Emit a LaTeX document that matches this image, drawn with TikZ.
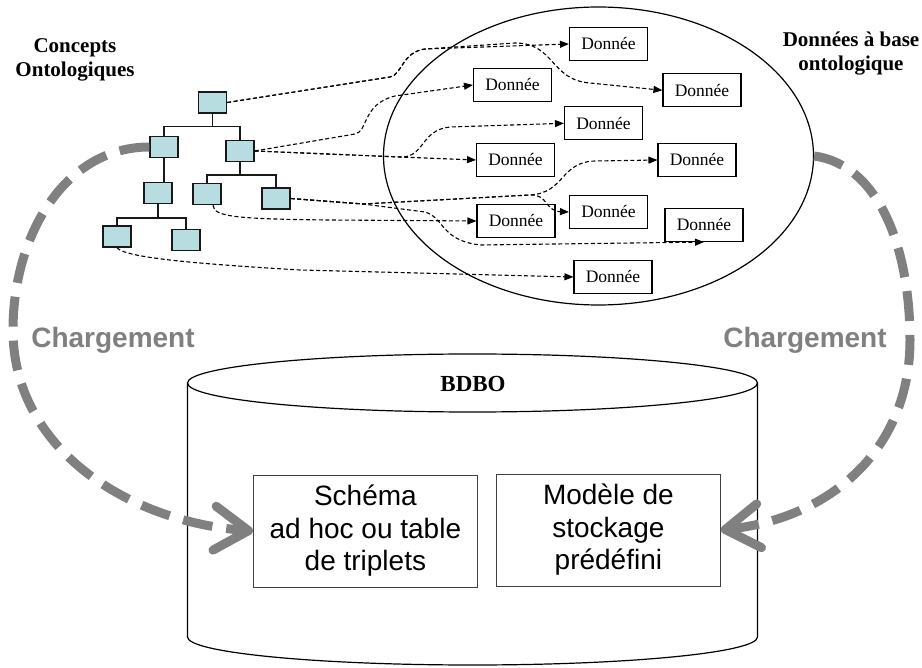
\documentclass[tikz,border=0pt]{standalone}
\usepackage{fontspec}
\setmainfont{Liberation Serif}
\newfontfamily\arialfont{Liberation Sans}
\usepackage{tikz}
\usetikzlibrary{arrows.meta,positioning,shapes.geometric}
\definecolor{gris}{RGB}{128,128,128}
\definecolor{bleuclair}{RGB}{183,221,224}
\tikzstyle{concept}=[draw=black!90,fill=bleuclair,line width=1.4pt,minimum width=28pt,minimum height=21pt,inner sep=0pt]
\tikzstyle{arbre}=[line width=1.4pt,black!90]
\tikzstyle{donnee}=[draw,line width=1.1pt,minimum width=78pt,minimum height=33pt,inner sep=0pt,font=\fontsize{17.5}{20}\selectfont]
\tikzstyle{lien}=[-{Triangle[length=9pt,width=7pt]},dash pattern=on 4pt off 2.5pt,line width=1.1pt]
\tikzstyle{charge}=[gris,line width=9pt,dash pattern=on 30pt off 14pt,-{Straight Barb[length=34pt,width=44pt,round]}]
\tikzstyle{titre}=[align=center,font=\bfseries\fontsize{21}{24}\selectfont]
\tikzstyle{boite}=[draw=black!75,line width=0.9pt,minimum width=224pt,minimum height=112pt,align=center,font=\arialfont\fontsize{28}{32.5}\selectfont]
\tikzstyle{cyl}=[line width=1.2pt]
\begin{document}
\begin{tikzpicture}[x=1pt,y=-1pt]
    \useasboundingbox (0,0) rectangle (922,668);

    % titres
    \node[titre] (concepts) at (75,60) {Concepts\\Ontologiques};
    \node[titre] (donnees) at (851,54) {Données à base\\ontologique};

    % arbre des concepts
    \node[concept] (C0) at (212.5,102.5) {};
    \node[concept] (C1) at (164,147) {};
    \node[concept] (C2) at (240,151) {};
    \node[concept] (C3) at (158,193) {};
    \node[concept] (C4) at (207,194) {};
    \node[concept] (C5) at (276,198.5) {};
    \node[concept] (C6) at (117,236.5) {};
    \node[concept] (C7) at (186,240) {};

    \draw[arbre] (C0.south) -- ++(0,13) -| (C1.north);
    \draw[arbre] (C0.south) -- ++(0,13) -| (C2.north);
    \draw[arbre] (C1.south) -- (C1.south |- C3.north);
    \draw[arbre] (C2.south) -- ++(0,13) -| (C4.north);
    \draw[arbre] (C2.south) -- ++(0,13) -| (C5.north);
    \draw[arbre] (C3.south) -- ++(0,14) -| (C6.north);
    \draw[arbre] (C3.south) -- ++(0,14) -| (C7.north);

    % donnees
    \node[draw,ellipse,line width=1.2pt,minimum width=430pt,minimum height=298pt,inner sep=0pt] (onto) at (598.5,156) {};
    \node[donnee] (D1) at (608.5,44) {Donnée};
    \node[donnee] (D2) at (512.5,85) {Donnée};
    \node[donnee] (D3) at (702,90.3) {Donnée};
    \node[donnee] (D4) at (603.5,123.3) {Donnée};
    \node[donnee] (D5) at (515.5,160) {Donnée};
    \node[donnee] (D6) at (697,160) {Donnée};
    \node[donnee] (D7) at (608.5,212) {Donnée};
    \node[donnee] (D8) at (516,221) {Donnée};
    \node[donnee] (D9) at (704,225) {Donnée};
    \node[donnee] (D10) at (613,277) {Donnée};

    \draw[lien] (C0.east) -- (390,77) .. controls (402,75) and (402,52) .. (425,49) -- (D1.west);
    \draw[lien] (C0.east) -- (390,77) .. controls (402,75) and (402,52) .. (425,49) -- (515,43) .. controls (555,43) and (550,80) .. (590,83) -- (D3.west);
    \draw[lien] (C2.east) -- (355,134) .. controls (368,132) and (362,104) .. (395,96) -- (D2.west);
    \draw[lien] (C2.east) -- (400,157) .. controls (425,158) and (420,130) .. (450,127) -- (D4.west);
    \draw[lien] (C2.east) -- (400,157) -- (D5.west);
    \draw[lien] (C5.east) -- (363,204) -- (530,195) .. controls (565,193) and (560,162) .. (595,161) -- (D6.west);
    \draw[lien] (C5.east) -- (363,204) -- (530,195) .. controls (548,194) and (545,211) .. (D7.west);
    \draw[lien] (C5.east) -- (363,204) -- (425,212) .. controls (445,218) and (440,240) .. (480,245) -- (D9.south);
    \draw[lien] ([xshift=6pt]C4.south) .. controls +(0,12) and (240,219) .. (330,220) -- (D8.west);
    \draw[lien] (C6.south) .. controls (125,258) and (200,264) .. (300,270) -- (D10.west);

    % BDBO
    \draw[cyl] (187.5,383) -- (187.5,637) arc[start angle=180,end angle=0,x radius=285,y radius=28] -- (757.5,383);
    \draw[cyl] (472.5,383) ellipse [x radius=285,y radius=29];
    \node[font=\bfseries\fontsize{23}{26}\selectfont] (bdbo) at (473,384) {BDBO};
    \node[boite] (A) at (365.4,531) {Schéma\\ad hoc ou table\\de triplets};
    \node[boite] (B) at (608.4,530) {Modèle de\\stockage\\prédéfini};

    % chargement
    \draw[charge] (C1.west) .. controls (65,147) and (13,235) .. (13,330) .. controls (13,450) and (130,522) .. (A.west);
    \draw[charge] (onto.east) .. controls (880,165) and (910,250) .. (910,340) .. controls (910,450) and (830,518) .. (B.east);
    \node[gris,font=\arialfont\bfseries\fontsize{28}{32}\selectfont] (chg1) at (113,340) {Chargement};
    \node[gris,font=\arialfont\bfseries\fontsize{28}{32}\selectfont] (chg2) at (805,340) {Chargement};

\end{tikzpicture}
\end{document}
